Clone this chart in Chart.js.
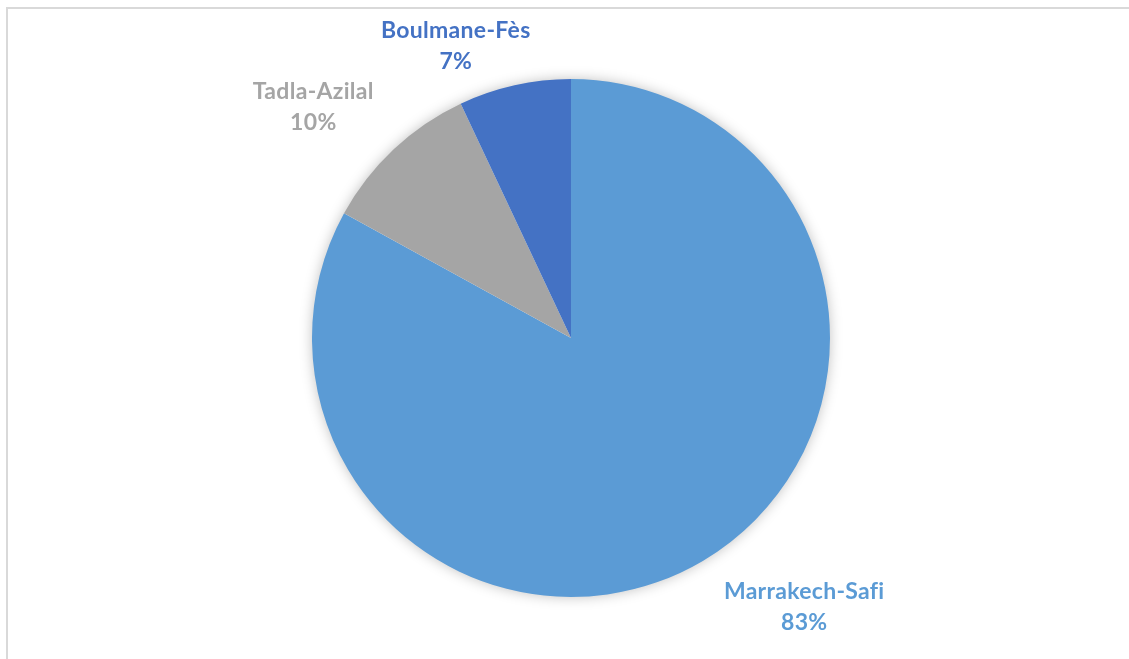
<!DOCTYPE html>
<html>
<head>
<meta charset="utf-8">
<title>Répartition par région</title>
<script src="https://cdn.jsdelivr.net/npm/chart.js@4"></script>
<style>
  html, body { margin: 0; padding: 0; background: #ffffff; }
  #wrap { width: 1129px; height: 659px; position: relative; }
</style>
</head>
<body>
<div id="wrap"><canvas id="mycanvas"></canvas></div>
<script>
// regions and their share (%)
var regions = ['Marrakech-Safi', 'Tadla-Azilal', 'Boulmane-Fès'];
var shares = [83, 10, 7];
var sliceColors = ['#5B9BD5', '#A5A5A5', '#4472C4'];

// label nudges (px) from the point just outside each slice
var labelNudge = [[81, 11], [-53, -13], [-50, -1]];

// light frame around the chart area
var framePlugin = {
  id: 'frame',
  beforeDraw: function(chart) {
    var ctx = chart.ctx;
    ctx.save();
    ctx.strokeStyle = '#d9d9d9';
    ctx.lineWidth = 2;
    ctx.strokeRect(7, 8, chart.width + 20, chart.height + 20);
    ctx.restore();
  }
};

// soft shadow behind the whole pie
var shadowPlugin = {
  id: 'pieShadow',
  beforeDatasetsDraw: function(chart) {
    var arc = chart.getDatasetMeta(0).data[0];
    if (!arc) return;
    var ctx = chart.ctx;
    ctx.save();
    ctx.shadowColor = 'rgba(0, 0, 0, 0.28)';
    ctx.shadowBlur = 14;
    ctx.beginPath();
    ctx.arc(arc.x, arc.y, arc.outerRadius - 1, 0, Math.PI * 2);
    ctx.fillStyle = '#ffffff';
    ctx.fill();
    ctx.restore();
  }
};

// category name + percentage next to each slice
var labelPlugin = {
  id: 'sliceLabels',
  afterDatasetsDraw: function(chart) {
    var ctx = chart.ctx;
    var meta = chart.getDatasetMeta(0);
    ctx.save();
    ctx.font = 'bold 23px Lato, "Open Sans", sans-serif';
    ctx.letterSpacing = '0.3px';
    ctx.textAlign = 'center';
    ctx.textBaseline = 'middle';
    meta.data.forEach(function(arc, i) {
      var mid = (arc.startAngle + arc.endAngle) / 2;
      var r = arc.outerRadius + 40;
      var x = arc.x + Math.cos(mid) * r + labelNudge[i][0];
      var y = arc.y + Math.sin(mid) * r + labelNudge[i][1];
      ctx.fillStyle = sliceColors[i];
      ctx.fillText(regions[i], x, y - 15);
      ctx.fillText(shares[i] + '%', x, y + 16);
    });
    ctx.restore();
  }
};

var ctx = document.getElementById('mycanvas');

var pieChart = new Chart(ctx, {
  type: 'pie',
  data: {
    labels: regions,
    datasets: [{
      data: shares,
      backgroundColor: sliceColors,
      borderWidth: 0
    }]
  },
  options: {
    responsive: true,
    maintainAspectRatio: false,
    animation: false,
    layout: {
      padding: { left: 312, right: 299, top: 79, bottom: 62 }
    },
    plugins: {
      legend: { display: false },
      tooltip: { enabled: false }
    }
  },
  plugins: [framePlugin, shadowPlugin, labelPlugin]
});
</script>
</body>
</html>
